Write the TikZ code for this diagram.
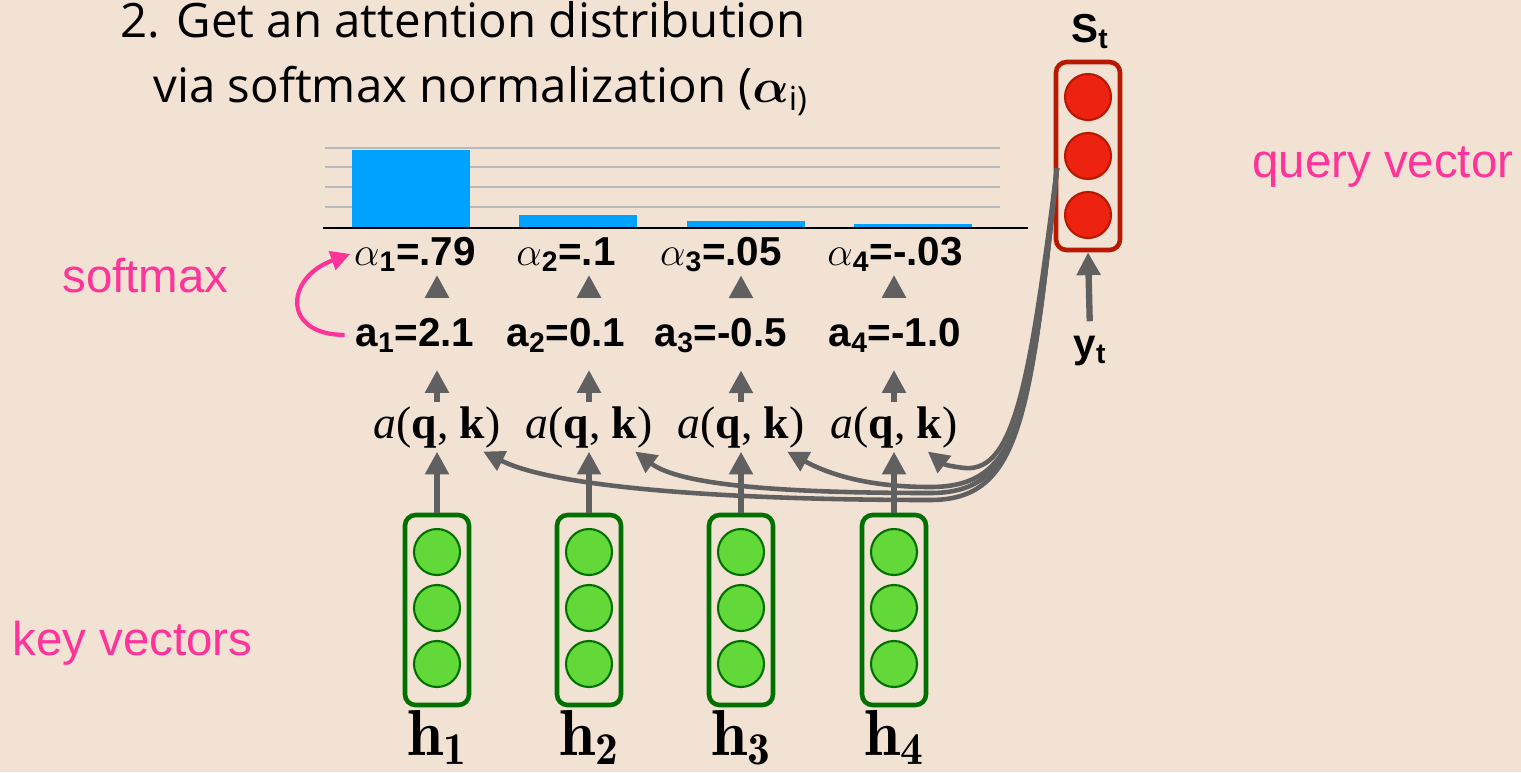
\RequirePackage{fix-cm}
\documentclass[tikz,border=0pt]{standalone}
\usepackage{bm}
\usepackage{fontspec}
\newfontfamily\helv{Liberation Sans}
\newfontfamily\scorefont{Liberation Serif}
\newfontfamily\headfont{Open Sans}
\usetikzlibrary{arrows.meta, positioning}
\definecolor{bgc}{RGB}{242,226,212}
\definecolor{notepink}{RGB}{255,51,153}
\definecolor{barblue}{RGB}{0,162,255}
\definecolor{keyfill}{RGB}{98,217,57}
\definecolor{keydraw}{RGB}{0,112,0}
\definecolor{qfill}{RGB}{238,34,17}
\definecolor{qdraw}{RGB}{182,24,0}
\definecolor{arrgray}{RGB}{96,96,96}
\definecolor{gridgray}{RGB}{185,185,185}

\begin{document}
\begin{tikzpicture}[x=0.02cm, y=-0.02cm,
  arr/.style={draw=arrgray, line width=3.6pt, -{Triangle[length=13pt, width=13pt]}},
  qarr/.style={draw=arrgray, line width=2.6pt, -{Triangle[length=12pt, width=12pt]}},
  softarr/.style={draw=notepink, line width=2.4pt, -{Triangle[length=11pt, width=11pt]}},
  vecbox/.style={draw=#1, line width=2.6pt, rounded corners=6pt, minimum width=1.28cm, minimum height=3.8cm, inner sep=0pt},
  keycell/.style={circle, draw=keydraw, fill=keyfill, line width=1.2pt, minimum size=0.92cm, inner sep=0pt},
  qcell/.style={circle, draw=qdraw, fill=qfill, line width=1.2pt, minimum size=0.92cm, inner sep=0pt},
  val/.style={font=\helv\bfseries\fontsize{23}{26}\selectfont, inner sep=2pt},
  score/.style={font=\scorefont\fontsize{26}{30}\selectfont, inner sep=2pt},
  note/.style={font=\helv\fontsize{27}{32}\selectfont, text=notepink, inner sep=0pt},
  keylbl/.style={font=\fontsize{37}{42}\selectfont, inner sep=0pt},
  title/.style={font=\headfont\fontsize{27}{32}\selectfont, inner sep=0pt},
  grid line/.style={draw=gridgray, line width=1.1pt},
]
  \useasboundingbox (0,0) rectangle (1521,772);
  \fill[bgc] (0,0) rectangle (1521,772);

  % heading
  \node[title, anchor=base west] (title1) at (120,37) {2. Get an attention distribution};
  \node[title, anchor=base west] (title2) at (153,102) {via softmax normalization ($\bm{\alpha}$\textsubscript{i)}};

  % bar chart of the weights
  \foreach \gy in {148,167,187,207} \draw[grid line] (325,\gy) -- (1000,\gy);
  \foreach \bx/\bt in {352/150, 519/215, 687/221, 854/224}
    \fill[barblue] (\bx,\bt) rectangle ({\bx+118},228);
  \draw[black, line width=1.2pt] (323,228) -- (1028,228);

  % one column per key
  \foreach \i/\cx/\lx/\al/\av in {1/437/415/.79/2.1, 2/589/566/.1/0.1, 3/741/721/.05/-0.5, 4/894/895/-.03/-1.0}{
    \node[vecbox=keydraw] (key\i) at (\cx,610) {};
    \foreach \cy in {552,608,664} \node[keycell] at (\cx,\cy) {};
    \node[keylbl, anchor=base] (h\i) at (\cx,755) {$\mathbf{h}_{\mathbf{\i}}$};
    \node[score, anchor=base] (score\i) at (\cx,438) {\textit{a}(\textbf{q}, \textbf{k})};
    \node[val, anchor=base] (raw\i) at (\lx,346) {a\textsubscript{\i}=\av};
    \node[val, anchor=base] (att\i) at (\lx,265) {$\alpha$\textsubscript{\i}=\al};
    \draw[arr] (key\i.north) -- (score\i.south);
    \draw[arr, shorten >=8pt] (score\i.north) -- (score\i.north |- raw\i.south);
    \draw[arr, shorten <=9pt] (score\i.north |- raw\i.north) -- (score\i.north |- att\i.south);
  }

  % query side
  \node[vecbox=qdraw, minimum height=3.76cm] (qbox) at (1088,156) {};
  \foreach \cy in {97,156,215} \node[qcell] at (1088,\cy) {};
  \node[val, anchor=base] (st) at (1090,42) {S\textsubscript{t}};
  \node[val, anchor=base] (yt) at (1090,357) {y\textsubscript{t}};
  \draw[arr, shorten <=6pt] (yt.north) -- (qbox.south);

  % query fed to every score
  \coordinate (qout) at (1057,168);
  \foreach \i/\dy/\ca/\cb/\cc in {1/500/750/560/490, 2/493/780/680/485, 3/487/870/830/475}
    \draw[qarr] (qout) .. controls (1030,420) and (1020,\dy) .. (930,\dy)
      .. controls (\ca,\dy) and (\cb,\cc) .. (score\i.-28);
  \draw[qarr] (qout) .. controls (1030,380) and (1015,472) .. (965,468)
    .. controls (955,467) and (945,465) .. (score4.-36);

  % side notes
  \node[note, anchor=base west] (softmaxlbl) at (62,292) {softmax};
  \node[note, anchor=base west] (keynote) at (12,655) {key vectors};
  \node[note, anchor=base west] (querynote) at (1252,177) {query vector};
  \draw[softarr, shorten <=4pt] (raw1.west) to[out=180, in=200, looseness=2.2] (att1.west);
\end{tikzpicture}
\end{document}
